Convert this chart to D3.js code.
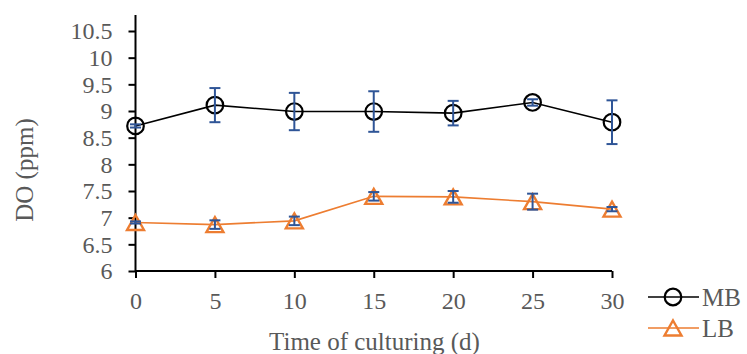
<!DOCTYPE html>
<html><head><meta charset="utf-8">
<script src="https://cdn.jsdelivr.net/npm/d3@7"></script>
<style>body{margin:0;background:#fff}svg{display:block}text{font-family:"Liberation Serif","Times New Roman",serif;fill:#595959}</style>
</head><body>
<svg id="c" width="747" height="354"></svg>
<script>
const days = [0, 5, 10, 15, 20, 25, 30];
const mbValues = [8.72, 9.11, 8.99, 8.99, 8.96, 9.16, 8.79];
const mbErrors = [0.03, 0.32, 0.35, 0.38, 0.23, 0.06, 0.41];
const lbValues = [6.91, 6.87, 6.94, 7.40, 7.39, 7.30, 7.16];
const lbErrors = [0.02, 0.08, 0.08, 0.08, 0.11, 0.15, 0.04];
const yTicks = [6, 6.5, 7, 7.5, 8, 8.5, 9, 9.5, 10, 10.5];
const xTicks = [0, 5, 10, 15, 20, 25, 30];
const seriesNames = ["MB", "LB"];

const svg = d3.select("#c");
const x = d3.scaleLinear().domain([0, 30]).range([135.5, 612]);
const y = d3.scaleLinear().domain([6, 10.5]).range([271, 31]);
const yTop = 15;

// Y axis
const yAxis = d3.axisLeft(y).tickValues(yTicks).tickSize(7).tickPadding(16)
  .tickFormat(d => String(d));
const gy = svg.append("g").attr("transform", `translate(${x(0)},0)`).call(yAxis);
gy.attr("font-family", null);
gy.select(".domain").remove();
gy.append("line").attr("x1", 0).attr("x2", 0).attr("y1", yTop).attr("y2", y(6))
  .attr("stroke", "#000").attr("stroke-width", 2);
gy.selectAll(".tick line").attr("stroke", "#000").attr("stroke-width", 2);
gy.selectAll(".tick text").style("font-size", "24px").attr("fill", "#595959");

// X axis
const xAxis = d3.axisBottom(x).tickValues(xTicks).tickSize(7).tickPadding(14)
  .tickFormat(d => String(d));
const gx = svg.append("g").attr("transform", `translate(0,${y(6)})`).call(xAxis);
gx.attr("font-family", null);
gx.select(".domain").attr("stroke", "#000").attr("stroke-width", 2)
  .attr("d", `M${x(0)},0H${x(30)}`);
gx.selectAll(".tick line").attr("stroke", "#000").attr("stroke-width", 2);
gx.selectAll(".tick text").style("font-size", "24px").attr("fill", "#595959");

// titles
svg.append("text").attr("transform", "translate(33,170) rotate(-90)")
  .attr("text-anchor", "middle").style("font-size", "25px").text("DO (ppm)");
svg.append("text").attr("x", 374.5).attr("y", 350)
  .attr("text-anchor", "middle").style("font-size", "25px").text("Time of culturing (d)");

const line = d3.line().x(d => x(d[0])).y(d => y(d[1]));
const mb = days.map((d, i) => [d, mbValues[i], mbErrors[i]]);
const lb = days.map((d, i) => [d, lbValues[i], lbErrors[i]]);

// lines
svg.append("path").datum(mb).attr("d", line).attr("fill", "none")
  .attr("stroke", "#000").attr("stroke-width", 1.6);
svg.append("path").datum(lb).attr("d", line).attr("fill", "none")
  .attr("stroke", "#ED7D31").attr("stroke-width", 1.6);

const triPath = (cx, cy, w, h) => `M${cx},${cy - h / 2}L${cx + w / 2},${cy + h / 2}L${cx - w / 2},${cy + h / 2}Z`;

// markers
svg.append("g").selectAll("circle").data(mb).join("circle")
  .attr("cx", d => x(d[0])).attr("cy", d => y(d[1])).attr("r", 8.3)
  .attr("fill", "none").attr("stroke", "#000").attr("stroke-width", 2.2);
svg.append("g").selectAll("path").data(lb).join("path")
  .attr("d", d => triPath(x(d[0]), y(d[1]), 17, 15))
  .attr("fill", "none").attr("stroke", "#ED7D31").attr("stroke-width", 2.4)
  .attr("stroke-linejoin", "miter");

// error bars
function errBars(data) {
  const g = svg.append("g").attr("stroke", "#2F5597").attr("stroke-width", 2);
  data.forEach(d => {
    const cx = x(d[0]), t = y(d[1] + d[2]), b = y(d[1] - d[2]);
    g.append("line").attr("x1", cx).attr("x2", cx).attr("y1", t).attr("y2", b);
    g.append("line").attr("x1", cx - 5.5).attr("x2", cx + 5.5).attr("y1", t).attr("y2", t);
    g.append("line").attr("x1", cx - 5.5).attr("x2", cx + 5.5).attr("y1", b).attr("y2", b);
  });
}
errBars(mb);
errBars(lb);

// legend
const leg = svg.append("g");
const legY = [297, 328];
leg.append("line").attr("x1", 648).attr("x2", 699).attr("y1", legY[0]).attr("y2", legY[0])
  .attr("stroke", "#000").attr("stroke-width", 1.6);
leg.append("circle").attr("cx", 673).attr("cy", legY[0]).attr("r", 8.3)
  .attr("fill", "none").attr("stroke", "#000").attr("stroke-width", 2.2);
leg.append("line").attr("x1", 648).attr("x2", 699).attr("y1", legY[1]).attr("y2", legY[1])
  .attr("stroke", "#ED7D31").attr("stroke-width", 1.6);
leg.append("path").attr("d", triPath(673, legY[1], 17, 15))
  .attr("fill", "none").attr("stroke", "#ED7D31").attr("stroke-width", 2.4);
seriesNames.forEach((n, i) => {
  leg.append("text").attr("x", 702).attr("y", legY[i] + 9).style("font-size", "25px").text(n);
});
</script>
</body></html>
